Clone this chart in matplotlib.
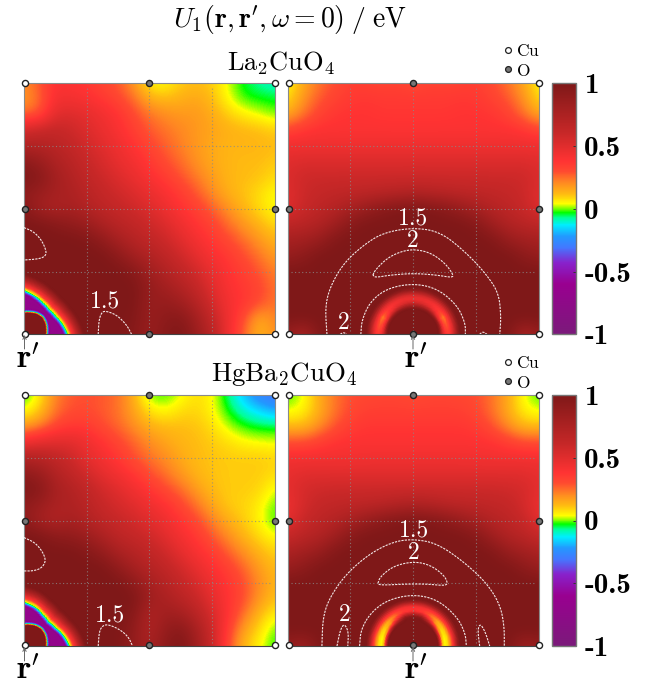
import numpy as np
import matplotlib
matplotlib.use('Agg')
import matplotlib.pyplot as plt
from matplotlib.colors import LinearSegmentedColormap, Normalize
from matplotlib.cm import ScalarMappable

W, H = 667, 690
plt.rcParams['mathtext.fontset'] = 'cm'
plt.rcParams['font.family'] = ['cmr10', 'DejaVu Sans']
plt.rcParams['axes.formatter.use_mathtext'] = True

# colour scale: value, colour
cmap_values = [-1, -.6, -.43, -.31, -.22, -.13, -.07, -.03, -.005, .04, .12, .21, .3, .38, .6, 1]
cmap_colors = ['#7b1a7a', '#990090', '#8822cc', '#4477ff', '#2299ff', '#00eeff', '#00ff99', '#00ff00',
               '#66ff00', '#ffff00', '#ffbb11', '#ff8822', '#ff4a30', '#ff3333', '#c82828', '#7f1818']

# field on a 17x17 grid, rows from top to bottom, columns left to right
la_left = [
    [.20, .28, .40, .38, .36, .32, .28, .18, .05, .04, .10, .12, .10, .03, -.04, -.08, -.10],
    [.18, .25, .42, .42, .40, .36, .32, .25, .14, .12, .14, .16, .12, .04, -.02, -.03, -.04],
    [.25, .28, .50, .52, .48, .43, .38, .31, .24, .20, .18, .18, .15, .10, .06, .03, .00],
    [.55, .60, .62, .58, .52, .46, .40, .34, .28, .24, .21, .18, .16, .14, .13, .12, .10],
    [.72, .72, .68, .63, .56, .50, .44, .38, .32, .27, .22, .18, .15, .13, .13, .13, .12],
    [.92, .85, .74, .68, .60, .54, .47, .42, .36, .30, .25, .19, .15, .13, .12, .12, .10],
    [1, .95, .80, .72, .64, .58, .52, .46, .40, .35, .29, .23, .17, .13, .12, .11, .08],
    [.90, .85, .78, .75, .68, .62, .57, .52, .46, .40, .35, .28, .20, .14, .11, .08, .04],
    [.95, .80, .75, .78, .72, .66, .62, .57, .52, .45, .38, .34, .27, .19, .13, .08, .04],
    [1, 1, .95, .90, .85, .75, .68, .64, .58, .52, .44, .37, .33, .25, .18, .13, .08],
    [1, 1, 1, 1, .98, .90, .78, .70, .64, .58, .50, .42, .36, .31, .25, .18, .13],
    [1, 1, 1, 1, 1, 1, .92, .80, .72, .65, .57, .48, .40, .36, .30, .24, .17],
    [1, 1, 1, 1, 1, 1, 1, .95, .82, .72, .64, .56, .46, .38, .34, .28, .22],
    [1, 1, 1, 1, 1, 1, 1, 1, .88, .80, .72, .62, .50, .40, .36, .32, .24],
    [1, 1, 1, 1, 1, 1, 1, 1, .85, .88, .82, .70, .55, .42, .37, .30, .24],
    [1, 1, 1, 1, 1, 1, 1, .98, .85, .92, .95, .80, .62, .44, .30, .14, .22],
    [1, 1, 1, 1, 1, 1, 1, .95, .85, .95, 1, .85, .68, .44, .26, .12, .20],
]
hg_left = [
    [-.03, .05, .22, .28, .30, .28, .25, .14, -.01, -.02, .03, .08, .05, -.06, -.18, -.28, -.32],
    [.03, .10, .24, .30, .30, .28, .24, .16, .07, .04, .08, .09, .05, -.03, -.10, -.15, -.20],
    [.17, .22, .32, .36, .36, .30, .26, .20, .14, .12, .12, .11, .08, .02, -.02, -.04, -.04],
    [.42, .48, .50, .50, .44, .38, .32, .26, .20, .16, .13, .12, .10, .08, .05, .04, .03],
    [.72, .70, .64, .58, .48, .42, .36, .30, .24, .20, .15, .12, .11, .10, .10, .10, .09],
    [.90, .85, .72, .64, .56, .48, .42, .36, .30, .24, .18, .13, .11, .10, .10, .10, .08],
    [1, .95, .78, .72, .64, .56, .50, .43, .37, .31, .25, .17, .12, .10, .10, .09, .03],
    [.90, .85, .75, .74, .68, .60, .55, .50, .44, .38, .32, .24, .15, .10, .09, .06, -.01],
    [.92, .78, .72, .78, .72, .65, .60, .56, .50, .44, .37, .31, .22, .14, .10, .05, -.02],
    [1, 1, .92, .90, .84, .75, .66, .62, .57, .50, .42, .36, .28, .20, .13, .08, .04],
    [1, 1, 1, 1, .96, .88, .76, .70, .64, .57, .48, .40, .35, .27, .19, .13, .09],
    [1, 1, 1, 1, 1, 1, .90, .78, .70, .64, .56, .47, .39, .34, .26, .17, .12],
    [1, 1, 1, 1, 1, 1, 1, .92, .78, .70, .62, .54, .44, .37, .30, .20, .13],
    [1, 1, 1, 1, 1, 1, 1, 1, .82, .76, .68, .60, .48, .38, .30, .18, .11],
    [1, 1, 1, 1, 1, 1, 1, .95, .72, .82, .80, .68, .54, .38, .24, .12, .05],
    [1, 1, 1, 1, 1, 1, 1, .90, .72, .88, .95, .78, .58, .34, .16, .08, -.01],
    [1, 1, 1, 1, 1, 1, 1, .88, .76, .92, 1, .82, .60, .30, .12, .05, -.03],
]
# right panels are symmetric about r', left half only (17 rows x 9 columns)
la_right = [
    [.04, .15, .24, .30, .34, .33, .32, .33, .30],
    [.07, .19, .28, .33, .36, .37, .36, .36, .36],
    [.15, .24, .33, .37, .38, .38, .37, .37, .37],
    [.32, .37, .39, .39, .39, .39, .39, .39, .39],
    [.44, .44, .44, .44, .44, .44, .44, .44, .44],
    [.50, .52, .52, .52, .52, .52, .52, .52, .52],
    [.52, .58, .58, .58, .58, .58, .58, .58, .58],
    [.50, .58, .62, .64, .65, .66, .68, .70, .72],
    [.50, .60, .66, .70, .78, .86, .94, .98, 1],
    [.65, .68, .72, .82, .95, 1, 1, 1, 1],
    [.78, .80, .86, .98, 1, 1, 1, 1, 1],
    [.86, .92, 1, 1, 1, 1, 1, 1, 1],
    [1, 1, 1, 1, 1, 1, 1, 1, 1],
    [1, 1, 1, 1, 1, 1, 1, 1, 1],
    [1, 1, 1, 1, 1, 1, 1, 1, 1],
    [1, 1, 1, 1, 1, 1, 1, 1, 1],
    [.88, .72, 1, 1, 1, 1, 1, 1, 1],
]
hg_right = [
    [-.02, .03, .15, .24, .30, .31, .32, .32, .30],
    [.03, .05, .14, .24, .31, .34, .34, .34, .34],
    [.12, .12, .20, .29, .35, .37, .37, .37, .37],
    [.30, .30, .34, .38, .39, .39, .39, .39, .39],
    [.42, .42, .42, .42, .42, .43, .43, .43, .43],
    [.47, .50, .50, .50, .50, .50, .50, .50, .50],
    [.48, .55, .57, .58, .58, .58, .58, .58, .58],
    [.44, .55, .62, .64, .65, .66, .68, .72, .74],
    [.48, .60, .66, .70, .78, .86, .94, .98, 1],
    [.60, .68, .72, .82, .95, 1, 1, 1, 1],
    [.75, .80, .86, .98, 1, 1, 1, 1, 1],
    [.85, .92, 1, 1, 1, 1, 1, 1, 1],
    [1, 1, 1, 1, 1, 1, 1, 1, 1],
    [1, 1, 1, 1, 1, 1, 1, 1, 1],
    [1, 1, 1, 1, 1, 1, 1, 1, 1],
    [1, 1, 1, 1, 1, 1, 1, 1, 1],
    [.88, .80, 1, 1, 1, 1, 1, 1, 1],
]

# rings round r', angle in degrees from the bottom edge
ring_theta = [0, 15, 30, 45, 60, 75, 90]

# left panels: band between an inner and an outer edge, same profile at each angle
band_inner_offset = [-.09, -.008, -.005, -.002, .001, .004, .01]
band_inner_value = [1, 1, .55, .05, -.15, -.4, -.68]
band_outer_offset = [-.022, -.014, -.008, -.002, .003, .01, .02, .04, .062]
band_outer_value = [-.65, -.38, -.13, .02, .12, .3, .45, .75, 1]
la_band_inner = [.093, .097, .102, .105, .102, .096, .092]
la_band_outer = [.180, .165, .152, .147, .153, .165, .180]
hg_band_inner = [.093, .096, .100, .102, .099, .094, .090]
hg_band_outer = [.188, .170, .152, .144, .152, .168, .180]

# right panels: values on fixed radii
arc_radius = [0, .10, .108, .118, .128, .14, .15, .16, .17, .18, .19]
la_arc = [
    [1, 1, .85, .55, .40, .35, .38, .50, .68, .88, 1],
    [1, 1, .85, .50, .32, .28, .35, .48, .66, .86, 1],
    [1, 1, .85, .45, .28, .22, .32, .46, .66, .86, 1],
    [1, 1, .85, .55, .40, .35, .40, .50, .68, .88, 1],
    [1, 1, .90, .65, .48, .42, .44, .53, .70, .90, 1],
    [1, 1, .90, .70, .52, .45, .46, .55, .72, .90, 1],
    [1, 1, .90, .72, .55, .45, .47, .55, .72, .90, 1],
]
hg_arc = [
    [1, 1, .60, .12, .04, .08, .20, .36, .58, .85, 1],
    [1, 1, .60, .12, .04, .08, .20, .36, .58, .85, 1],
    [1, 1, .65, .20, .08, .10, .22, .38, .60, .85, 1],
    [1, 1, .80, .35, .16, .14, .25, .38, .60, .85, 1],
    [1, 1, .90, .60, .34, .24, .28, .40, .60, .85, 1],
    [1, 1, 1, .90, .62, .36, .36, .42, .60, .85, 1],
    [1, 1, 1, .95, .70, .40, .38, .42, .60, .85, 1],
]

# iso-lines, panel fractions
la_left_lines = [
    ([0, .037, .07, .09, .084, .057, 0], [.425, .41, .376, .33, .31, .3, .296]),
    ([.296, .299, .31, .327, .37, .41, .429], [0, .057, .088, .093, .077, .037, 0]),
]
hg_left_lines = [
    ([0, .044, .074, .088, .07, .037, 0], [.432, .412, .376, .339, .31, .299, .299]),
    ([.296, .3, .313, .336, .382, .416, .433], [0, .057, .081, .086, .066, .037, 0]),
]
la_right_lines = [
    ([.157, .15, .17, .223, .303, .382, .499, .608, .714, .794, .841, .85, .845],
     [0, .11, .19, .283, .356, .405, .425, .409, .323, .236, .163, .07, 0]),
    ([.34, .349, .396, .449, .502, .568, .628, .661, .654, .595, .502, .409, .349, .34],
     [.236, .256, .303, .329, .339, .326, .283, .236, .226, .236, .243, .236, .226, .236]),
    ([.292, .296, .329, .396, .499, .595, .675, .708, .708],
     [0, .057, .13, .183, .203, .183, .117, .044, 0]),
    ([.21, .223, .236], [0, .008, 0]),
    ([.765, .778, .794], [0, .011, 0]),
]
hg_right_lines = [
    ([.137, .141, .17, .236, .329, .422, .502, .595, .701, .794, .847, .863, .863],
     [0, .117, .197, .29, .369, .416, .426, .409, .336, .25, .163, .077, 0]),
    ([.36, .369, .422, .502, .568, .622, .638, .628, .555, .475, .369, .36],
     [.25, .276, .319, .337, .323, .283, .252, .24, .247, .247, .242, .25]),
    ([.287, .292, .329, .396, .499, .595, .675, .708, .712],
     [0, .064, .13, .183, .206, .186, .117, .05, 0]),
    ([.197, .21, .226, .243, .24], [0, .064, .09, .057, 0]),
    ([.765, .757, .767, .787, .805], [0, .064, .09, .057, 0]),
]

la_left_labels = [('1.5', .324, .13)]
hg_left_labels = [('1.5', .343, .12)]
la_right_labels = [('1.5', .5, .46), ('2', .5, .373), ('2', .223, .046)]
hg_right_labels = [('1.5', .502, .462), ('2', .502, .372), ('2', .227, .124)]

cu_x = [.004, 1, .004, 1]
cu_y = [1, 1, .003, .003]
o_x = [.5, .5, .004, 1]
o_y = [1, .003, .5, .5]

cbar_ticks = [1, .5, 0, -.5, -1]
cbar_labels = ['1', '0.5', '0', '-0.5', '-1']
grid_lines = [.25, .5, .75]

cmap = LinearSegmentedColormap.from_list(
    'u1', [((v + 1) / 2, c) for v, c in zip(cmap_values, cmap_colors)], N=512)
norm = Normalize(-1, 1)


def upsample(a, rows, cols):
    # finer mesh for the colour interpolation, colours are taken per vertex
    a = np.asarray(a, dtype=float)
    ri = np.linspace(0, a.shape[0] - 1, rows)
    ci = np.linspace(0, a.shape[1] - 1, cols)
    tmp = np.array([np.interp(ci, np.arange(a.shape[1]), row) for row in a])
    return np.array([np.interp(ri, np.arange(a.shape[0]), tmp[:, j]) for j in range(cols)]).T


def polar_patch(ax, radii, values, cx, sign=1):
    th = np.radians(upsample(np.tile(ring_theta, (radii.shape[1], 1)).T, 61, 121))
    r = upsample(radii, 61, 121)
    v = upsample(values, 61, 121)
    ax.pcolormesh(cx + sign * r * np.cos(th), r * np.sin(th), v, shading='gouraud',
                  cmap=cmap, norm=norm, zorder=2, rasterized=True)


def band_mesh(inner, outer):
    radii = [np.r_[i + np.array(band_inner_offset), o + np.array(band_outer_offset)]
             for i, o in zip(inner, outer)]
    values = [band_inner_value + band_outer_value] * len(inner)
    return np.array(radii), np.array(values)


def smooth(x, y, n=3):
    # corner cutting so the read-off lines are not polygons
    p = np.column_stack([x, y])
    for _ in range(n):
        q = np.empty((2 * len(p), 2))
        q[0::2] = .75 * p + .25 * np.roll(p, -1, axis=0)
        q[1::2] = .25 * p + .75 * np.roll(p, -1, axis=0)
        q = q[:-2]
        p = np.vstack([p[0], q, p[-1]])
    return p[:, 0], p[:, 1]


def panel_axes(x0, y0, x1, y1):
    return fig.add_axes([x0 / W, 1 - y1 / H, (x1 - x0) / W, (y1 - y0) / H])


def draw_panel(ax, field, lines, labels):
    field = np.array(field, dtype=float)
    cell = .5 / (field.shape[0] - 1)
    ax.imshow(field, extent=[-cell, 1 + cell, -cell, 1 + cell], origin='upper', cmap=cmap, norm=norm,
              interpolation='bicubic', interpolation_stage='data', aspect='auto', zorder=1)
    for g in grid_lines:
        ax.plot([.012, .988], [g, g], color='#8a8a8a', lw=.8, ls=(0, (1, 2.2)), alpha=.8, zorder=3)
        ax.plot([g, g], [.012, .988], color='#8a8a8a', lw=.8, ls=(0, (1, 2.2)), alpha=.8, zorder=3)
    for x, y in lines:
        sx, sy = smooth(x, y)
        ax.plot(sx, sy, color='white', lw=.8, ls=(0, (2, 1)), alpha=.9, zorder=4)
    for s, x, y in labels:
        ax.text(x, y, s, color='white', fontsize=17, ha='center', va='center', zorder=5)
    ax.plot(cu_x, cu_y, 'o', ms=4.4, mfc='white', mec='#222222', mew=1, clip_on=False, zorder=6, ls='none')
    ax.plot(o_x, o_y, 'o', ms=4.4, mfc='#777777', mec='#222222', mew=1, clip_on=False, zorder=6, ls='none')
    ax.set(xlim=(0, 1), ylim=(0, 1), xticks=[], yticks=[])
    for side in ['top', 'left', 'right']:
        ax.spines[side].set_color('#8a8a8a')
    ax.spines['bottom'].set_color('#444444')


def draw_rprime(x_arrow, y_arrow, x_text, y_text):
    fig.text(x_text / W, 1 - y_text / H, r"$\mathbf{r}^{\prime}$", fontsize=24, ha='center', va='baseline')
    fig.add_artist(matplotlib.patches.FancyArrowPatch(
        (x_arrow / W, 1 - (y_arrow + 14) / H), (x_arrow / W, 1 - y_arrow / H), transform=fig.transFigure,
        arrowstyle='->', mutation_scale=6, color='#666666', lw=.7, shrinkA=0, shrinkB=0))


fig = plt.figure(figsize=(W / 100, H / 100), dpi=100)

rows = [
    (83.3, 334.3, la_left, la_right, la_left_lines, la_right_lines, la_left_labels, la_right_labels,
     la_band_inner, la_band_outer, la_arc),
    (395, 646, hg_left, hg_right, hg_left_lines, hg_right_lines, hg_left_labels, hg_right_labels,
     hg_band_inner, hg_band_outer, hg_arc),
]
for top, bot, left, right, l_lines, r_lines, l_labels, r_labels, inner, outer, arc in rows:
    ax = panel_axes(24, top, 274.7, bot)
    draw_panel(ax, left, l_lines, l_labels)
    polar_patch(ax, *band_mesh(inner, outer), 0)

    ax = panel_axes(287.5, top, 538.7, bot)
    half = np.array(right, dtype=float)
    draw_panel(ax, np.hstack([half, half[:, -2::-1]]), r_lines, r_labels)
    radii = np.tile(arc_radius, (len(ring_theta), 1))
    polar_patch(ax, radii, np.array(arc), .5, 1)
    polar_patch(ax, radii, np.array(arc), .5, -1)

    cax = panel_axes(551.7, top, 576, bot)
    cb = fig.colorbar(ScalarMappable(norm=norm, cmap=cmap), cax=cax)
    cb.set_ticks(cbar_ticks, labels=cbar_labels)
    cax.tick_params(direction='in', length=2, width=.7, color='#333333', pad=6, labelsize=21)
    for t in cax.get_yticklabels():
        t.set_family('cmb10')
    cb.outline.set_edgecolor('#777777')
    cb.outline.set_linewidth(1)

fig.text(290 / W, 1 - 27 / H, r"$U_1(\mathbf{r},\mathbf{r}^{\prime},\omega=0)\;/\;\mathrm{eV}$",
         fontsize=20, ha='center', va='baseline')
fig.text(281 / W, 1 - 70 / H, r"$\mathrm{La_2CuO_4}$", fontsize=19, ha='center', va='baseline')
fig.text(284 / W, 1 - 381 / H, r"$\mathrm{HgBa_2CuO_4}$", fontsize=19.4, ha='center', va='baseline')

draw_rprime(24.5, 335, 28, 369)
draw_rprime(413, 335, 416, 369)
draw_rprime(24.5, 647, 28, 680)
draw_rprime(413, 647, 416, 680)

# Cu / O key, one per row
leg = fig.add_axes([0, 0, 1, 1], facecolor='none')
leg.set(xlim=(0, W), ylim=(H, 0))
leg.axis('off')
for cu_px, o_px in [(50, 69), (362, 381)]:
    leg.plot([508], [cu_px], 'o', ms=4.2, mfc='white', mec='#222222', mew=.9)
    leg.plot([508], [o_px], 'o', ms=4.2, mfc='#777777', mec='#222222', mew=.9)
    leg.text(515.5, cu_px + 6.5, r"$\mathrm{Cu}$", fontsize=12.5, ha='left', va='baseline')
    leg.text(515.5, o_px + 6.5, r"$\mathrm{O}$", fontsize=12.5, ha='left', va='baseline')

fig.savefig('out.png', dpi=100)
